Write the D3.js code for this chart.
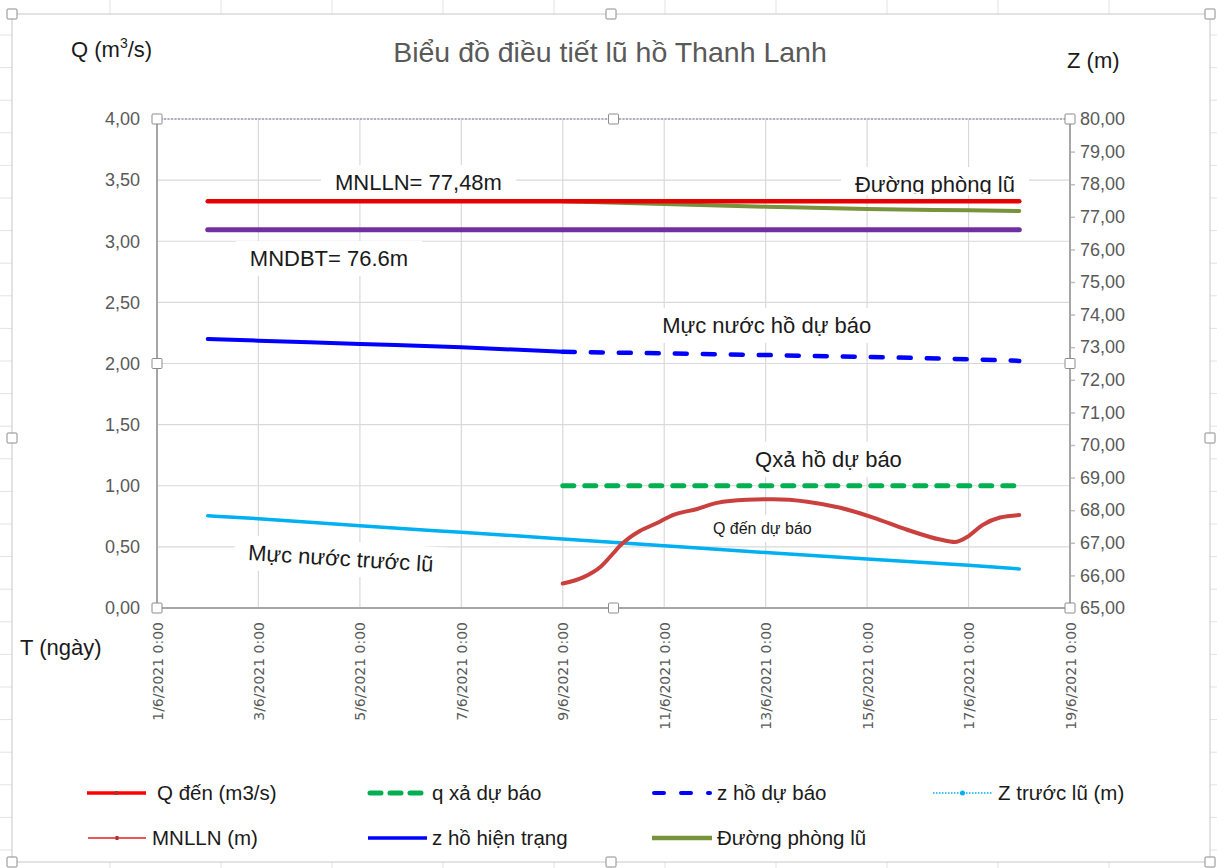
<!DOCTYPE html>
<html>
<head>
<meta charset="utf-8">
<script src="https://cdn.jsdelivr.net/npm/d3@7"></script>
<style>
  body { margin: 0; background: #fff; }
  svg { display: block; }
</style>
</head>
<body>
<svg id="chart" width="1217" height="868" font-family="'Liberation Sans', Arial, sans-serif"></svg>
<script>
// days are given as day-of-month in June 2021 (integer = 0:00)
const xTickDays = [1, 3, 5, 7, 9, 11, 13, 15, 17, 19];
const qTicks = [0, 0.5, 1, 1.5, 2, 2.5, 3, 3.5, 4];
const zTicks = [65, 66, 67, 68, 69, 70, 71, 72, 73, 74, 75, 76, 77, 78, 79, 80];

// Z trước lũ (m)
const zTruocDay = [2, 3, 5, 7, 9, 11, 13, 15, 17, 18];
const zTruocVal = [67.83, 67.74, 67.52, 67.32, 67.12, 66.91, 66.70, 66.50, 66.31, 66.20];

// Q đến (m3/s)
const qDenDay = [9.0, 9.4, 9.74, 10.0, 10.13, 10.33, 10.52, 10.86, 11.17, 11.65, 12.04, 12.63, 13.15,
                 13.82, 14.47, 15.12, 15.79, 16.44, 16.73, 16.97, 17.28, 17.62, 18.0];
const qDenVal = [0.20, 0.25, 0.335, 0.45, 0.51, 0.58, 0.63, 0.695, 0.76, 0.81, 0.86, 0.885, 0.89,
                 0.87, 0.82, 0.74, 0.64, 0.56, 0.54, 0.58, 0.68, 0.74, 0.76];

// q xả dự báo (m3/s)
const qXaDay = [9, 18];
const qXaVal = [1.0, 1.0];

// MNDBT (m)
const mndbtDay = [2, 18];
const mndbtVal = [76.6, 76.6];

// MNLLN (m)
const mnllnDay = [2, 18];
const mnllnVal = [77.48, 77.48];

// z hồ hiện trạng (m)
const zHienDay = [2, 3, 5, 7, 9];
const zHienVal = [73.25, 73.20, 73.10, 73.00, 72.86];

// z hồ dự báo (m)
const zDuBaoDay = [9, 11, 13, 15, 17, 18];
const zDuBaoVal = [72.86, 72.81, 72.76, 72.70, 72.63, 72.58];

// Đường phòng lũ (m)
const phongLuDay = [9, 11, 13, 15, 17, 18];
const phongLuVal = [77.48, 77.39, 77.31, 77.24, 77.20, 77.18];

const toDate = d => d3.timeMinute.offset(new Date(2021, 5, 1), Math.round((d - 1) * 1440));
const zip = (days, vals) => days.map((d, i) => ({ t: toDate(d), v: vals[i] }));

const svg = d3.select("#chart");
const W = 1217, H = 868;
const pLeft = 157, pRight = 1070, pTop = 119, pBottom = 608;

const x = d3.scaleTime().domain([toDate(1), toDate(19)]).range([pLeft, pRight]);
const yQ = d3.scaleLinear().domain([0, 4]).range([pBottom, pTop]);
const yZ = d3.scaleLinear().domain([65, 80]).range([pBottom, pTop]);

// spreadsheet cells behind the chart object
const cells = svg.append("g").attr("stroke", "#e3e3e3").attr("stroke-width", 1);
d3.range(110, W, 111).forEach(cx => cells.append("line").attr("x1", cx).attr("x2", cx).attr("y1", 0).attr("y2", H));
d3.range(35, H, 32.6).forEach(cy => cells.append("line").attr("x1", 0).attr("x2", W).attr("y1", cy).attr("y2", cy));

// chart area
svg.append("rect")
  .attr("x", 12).attr("y", 14).attr("width", 1198).attr("height", 848)
  .attr("fill", "#fff").attr("stroke", "#c8c8c8").attr("stroke-width", 1);

// gridlines
const grid = svg.append("g").attr("stroke", "#d9d9d9").attr("stroke-width", 1.2);
grid.selectAll("line.h").data(qTicks).join("line").attr("class", "h")
  .attr("x1", pLeft).attr("x2", pRight)
  .attr("y1", d => yQ(d)).attr("y2", d => yQ(d));
grid.selectAll("line.v").data(xTickDays).join("line").attr("class", "v")
  .attr("x1", d => x(toDate(d))).attr("x2", d => x(toDate(d)))
  .attr("y1", pTop).attr("y2", pBottom);

// annotation text boxes (white background, drawn under the series)
const annotations = [
  { text: "MNLLN= 77,48m", day: 4.51, z: 77.82, size: 22 },
  { text: "Đường phòng lũ", day: 14.76, z: 77.76, size: 22, clip: true },
  { text: "MNDBT= 76.6m", day: 2.83, z: 75.49, size: 22 },
  { text: "Mực nước hồ dự báo", day: 10.96, z: 73.44, size: 22 },
  { text: "Qxả hồ dự báo", day: 12.79, z: 69.33, size: 22 },
  { text: "Q đến dự báo", day: 11.96, z: 67.27, size: 16 },
  { text: "Mực nước trước lũ", day: 2.79, z: 66.47, size: 22, rotate: 3.6 }
];
const boxLayer = svg.append("g");
const series = svg.append("g");
const textLayer = svg.append("g");

annotations.forEach((a, i) => {
  const ax = x(toDate(a.day)), ay = yZ(a.z);
  const g = textLayer.append("g")
    .attr("transform", `translate(${ax},${ay}) rotate(${a.rotate || 0})`);
  const t = g.append("text").attr("x", 0).attr("y", 0)
    .attr("font-size", a.size).attr("fill", "#1a1a1a").text(a.text);
  const bb = t.node().getBBox();
  const padX = a.size > 18 ? 14 : 10, padY = 5;
  const boxBottom = a.clip ? 3 : bb.y + bb.height + padY;
  boxLayer.append("rect")
    .attr("transform", `translate(${ax},${ay}) rotate(${a.rotate || 0})`)
    .attr("x", bb.x - padX).attr("y", bb.y - padY)
    .attr("width", bb.width + 2 * padX).attr("height", boxBottom - (bb.y - padY))
    .attr("fill", "#fff");
  if (a.clip) {
    const id = "clip" + i;
    svg.append("clipPath").attr("id", id).append("rect")
      .attr("x", bb.x - 5).attr("y", bb.y - 5).attr("width", bb.width + 10).attr("height", -bb.y + 7);
    t.attr("clip-path", `url(#${id})`);
  }
});

// axes
const fmt = d => d3.format(".2f")(d).replace(".", ",");
const axisFont = g => g.selectAll("text")
  .style("font-family", "'Liberation Sans', Arial, sans-serif")
  .style("font-size", "18px").attr("fill", "#595959");

svg.append("g")
  .attr("transform", `translate(${pLeft},0)`)
  .call(d3.axisLeft(yQ).tickValues(qTicks).tickFormat(fmt).tickSize(0).tickPadding(17))
  .call(g => g.select(".domain").remove())
  .call(axisFont);

svg.append("g")
  .attr("transform", `translate(${pRight},0)`)
  .call(d3.axisRight(yZ).tickValues(zTicks).tickFormat(fmt).tickSize(5).tickPadding(5))
  .call(g => g.select(".domain").remove())
  .call(g => g.selectAll(".tick line").attr("stroke", "#bfbfbf").attr("stroke-width", 1.5))
  .call(axisFont);

svg.append("g")
  .attr("transform", `translate(0,${pBottom})`)
  .call(d3.axisBottom(x).tickValues(xTickDays.map(toDate))
    .tickFormat(d => `${d.getDate()}/${d.getMonth() + 1}/${d.getFullYear()} 0:00`).tickSize(0))
  .call(g => g.select(".domain").remove())
  .call(g => g.selectAll("text")
    .style("font-family", "'DejaVu Sans', Verdana, sans-serif")
    .style("font-size", "14px").attr("fill", "#595959")
    .attr("transform", "rotate(-90)")
    .attr("text-anchor", "end")
    .attr("x", -14).attr("y", 0).attr("dy", "0.36em"));

const axLines = svg.append("g").attr("stroke", "#a6a6a6").attr("stroke-width", 2);
axLines.append("line").attr("x1", pLeft).attr("x2", pLeft).attr("y1", pTop).attr("y2", pBottom);
axLines.append("line").attr("x1", pRight).attr("x2", pRight).attr("y1", pTop).attr("y2", pBottom);
axLines.append("line").attr("x1", pLeft).attr("x2", pRight).attr("y1", pBottom).attr("y2", pBottom);
svg.append("line").attr("x1", pLeft).attr("x2", pRight).attr("y1", pTop).attr("y2", pTop)
  .attr("stroke", "#9a9ab0").attr("stroke-width", 1.6).attr("stroke-dasharray", "2,1.5");

// series
const lineQ = d3.line().x(d => x(d.t)).y(d => yQ(d.v));
const lineZ = d3.line().x(d => x(d.t)).y(d => yZ(d.v));

function draw(data, gen, color, width, dash, curve) {
  series.append("path")
    .datum(data)
    .attr("d", gen.curve(curve || d3.curveLinear))
    .attr("fill", "none")
    .attr("stroke", color)
    .attr("stroke-width", width)
    .attr("stroke-linecap", "round")
    .attr("stroke-linejoin", "round")
    .attr("stroke-dasharray", dash);
}

draw(zip(zTruocDay, zTruocVal), lineZ, "#00b0f0", 3.5, null, d3.curveMonotoneX);
draw(zip(qDenDay, qDenVal), lineQ, "#c9403f", 4, null, d3.curveMonotoneX);
draw(zip(qXaDay, qXaVal), lineQ, "#00b050", 5, "11,11");
draw(zip(mndbtDay, mndbtVal), lineZ, "#7030a0", 5);
draw(zip(zHienDay, zHienVal), lineZ, "#0000ff", 4, null, d3.curveMonotoneX);
draw(zip(zDuBaoDay, zDuBaoVal), lineZ, "#0000ff", 4.5, "12,16", d3.curveMonotoneX);
draw(zip(phongLuDay, phongLuVal), lineZ, "#77933c", 4, null, d3.curveMonotoneX);
draw(zip(mnllnDay, mnllnVal), lineZ, "#e60000", 4.5);

// titles
svg.append("text").attr("x", 610).attr("y", 62).attr("text-anchor", "middle")
  .attr("font-size", 28.5).attr("fill", "#595959").text("Biểu đồ điều tiết lũ hồ Thanh Lanh");
const qt = svg.append("text").attr("x", 71).attr("y", 57).attr("font-size", 22).attr("fill", "#1a1a1a");
qt.append("tspan").text("Q (m");
qt.append("tspan").attr("font-size", 14).attr("dy", -9).text("3");
qt.append("tspan").attr("dy", 9).text("/s)");
svg.append("text").attr("x", 1067).attr("y", 68).attr("font-size", 22).attr("fill", "#1a1a1a").text("Z (m)");
svg.append("text").attr("x", 20).attr("y", 655).attr("font-size", 22).attr("fill", "#1a1a1a").text("T (ngày)");

// legend
const legendItems = [
  { name: "Q đến (m3/s)", row: 0, x0: 87, x1: 146, tx: 157, color: "#ff0000", width: 3.5, marker: "tick" },
  { name: "q xả dự báo", row: 0, x0: 370, x1: 425, tx: 432, color: "#00b050", width: 5, dash: "11,9" },
  { name: "z hồ dự báo", row: 0, x0: 654, x1: 710, tx: 717, color: "#0000ff", width: 4, dash: "10,17" },
  { name: "Z trước lũ (m)", row: 0, x0: 933, x1: 992, tx: 998, color: "#00b0f0", width: 1.5, dash: "1.5,1.5", marker: "dot" },
  { name: "MNLLN (m)", row: 1, x0: 88, x1: 146, tx: 152, color: "#e02020", width: 1.5, marker: "tick" },
  { name: "z hồ hiện trạng", row: 1, x0: 368, x1: 427, tx: 432, color: "#0000ff", width: 3.5 },
  { name: "Đường phòng lũ", row: 1, x0: 652, x1: 712, tx: 717, color: "#77933c", width: 4.5 }
];
const rowY = [793, 838];
const legend = svg.append("g");
legendItems.forEach(it => {
  const ly = rowY[it.row];
  legend.append("line")
    .attr("x1", it.x0).attr("x2", it.x1).attr("y1", ly).attr("y2", ly)
    .attr("stroke", it.color).attr("stroke-width", it.width)
    .attr("stroke-linecap", it.dash && it.width > 2 ? "round" : "butt")
    .attr("stroke-dasharray", it.dash || null);
  if (it.marker === "dot") {
    legend.append("circle").attr("cx", (it.x0 + it.x1) / 2).attr("cy", ly).attr("r", 2.5).attr("fill", it.color);
  } else if (it.marker === "tick") {
    legend.append("rect").attr("x", (it.x0 + it.x1) / 2 - 1.5).attr("y", ly - 2).attr("width", 3).attr("height", 4)
      .attr("fill", "#b03030");
  }
  legend.append("text").attr("x", it.tx).attr("y", ly).attr("dy", "0.36em")
    .attr("font-size", 20.5).attr("fill", "#1a1a1a").text(it.name);
});

// selection handles (plot area and chart area)
const handles = [
  [pLeft, pTop], [(pLeft + pRight) / 2, pTop], [pRight, pTop],
  [pLeft, (pTop + pBottom) / 2], [pRight, (pTop + pBottom) / 2],
  [pLeft, pBottom], [(pLeft + pRight) / 2, pBottom], [pRight, pBottom],
  [12, 14], [611, 14], [1210, 14], [12, 438], [1210, 438], [12, 862], [611, 862], [1210, 862]
];
svg.append("g").selectAll("rect").data(handles).join("rect")
  .attr("x", d => d[0] - 5).attr("y", d => d[1] - 5)
  .attr("width", 10).attr("height", 10).attr("rx", 1)
  .attr("fill", "#fff").attr("stroke", "#8c8c8c").attr("stroke-width", 1);
</script>
</body>
</html>
